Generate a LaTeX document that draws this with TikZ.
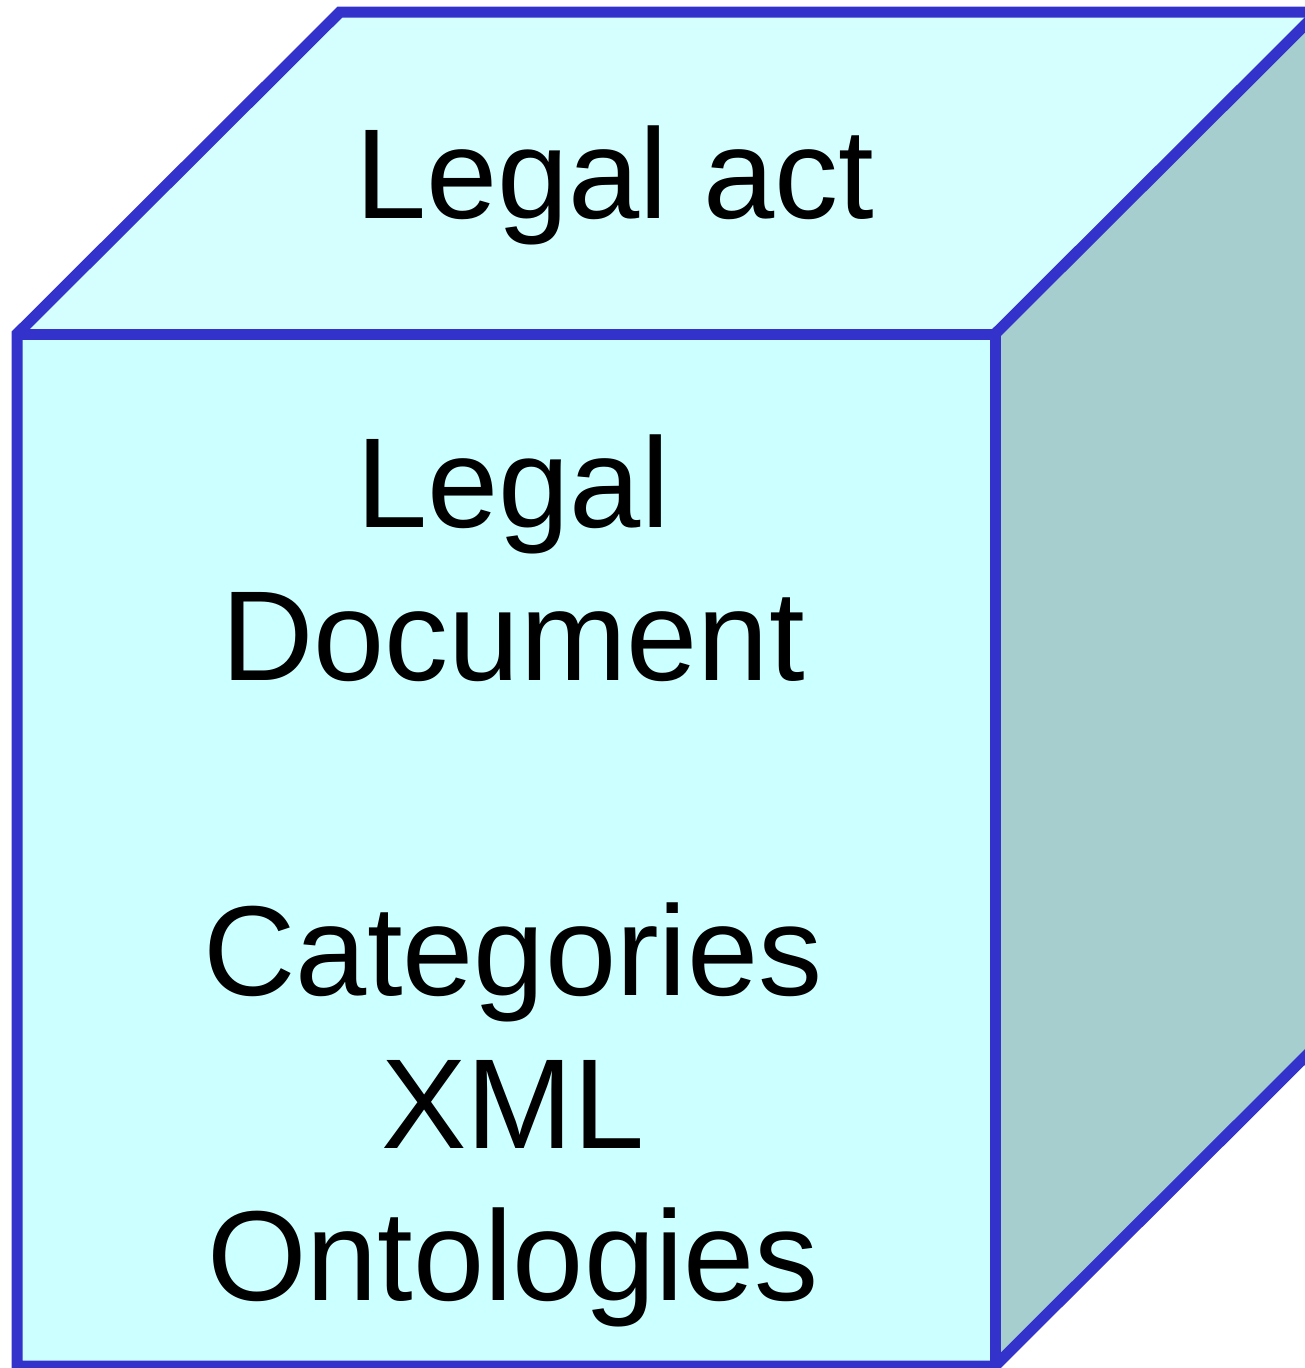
\documentclass[tikz,border=0pt]{standalone}
\usepackage{fontspec}
\setmainfont{Liberation Sans}
\definecolor{edge}{HTML}{3333CC}
\definecolor{frontc}{HTML}{CCFFFF}
\definecolor{topc}{HTML}{D5FFFF}
\definecolor{sidec}{HTML}{A6CECE}
\begin{document}
\begin{tikzpicture}[x=0.75pt,y=-0.75pt,
  face/.style={draw=edge,line width=8.25pt,line join=miter},
  lbl/.style={font=\fontsize{96pt}{115pt}\selectfont,anchor=base,inner sep=0pt}]
\useasboundingbox (0,0) rectangle (1305,1368);
\clip (0,0) rectangle (1305,1368);
\coordinate (A) at (17,334);
\coordinate (B) at (995,334);
\coordinate (C) at (995,1366);
\coordinate (D) at (17,1366);
\coordinate (E) at (340,12);
\coordinate (F) at (1318,12);
\coordinate (G) at (1318,1044);
\fill[topc] (A) -- (E) -- (F) -- (B) -- cycle;
\fill[sidec] (B) -- (F) -- (G) -- (C) -- cycle;
\fill[frontc] (A) -- (B) -- (C) -- (D) -- cycle;
\draw[face] (D) -- (A) -- (E) -- (F) -- (G) -- (C) -- cycle;
\draw[face] (A) -- (B) -- (C);
\draw[face] (B) -- (F);
\node[lbl] (act) at (615,218) {Legal act};
\node[lbl] (l1) at (513,527) {Legal};
\node[lbl] (l2) at (513,680) {Document};
\node[lbl] (l3) at (513,995) {Categories};
\node[lbl] (l4) at (513,1148) {XML};
\node[lbl] (l5) at (513,1300) {Ontologies};
\end{tikzpicture}
\end{document}
